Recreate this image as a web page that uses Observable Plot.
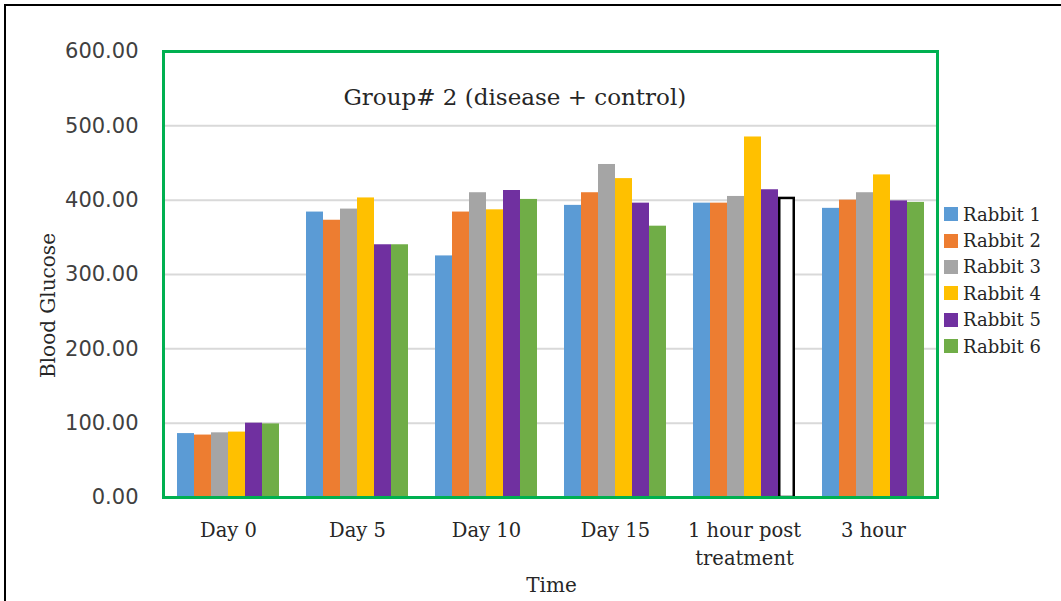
<!DOCTYPE html>
<html>
<head>
<meta charset="utf-8">
<script src="https://cdn.jsdelivr.net/npm/d3@7"></script>
<script src="https://cdn.jsdelivr.net/npm/@observablehq/plot@0.6"></script>
<style>
  html, body { margin: 0; padding: 0; background: #fff; }
  #wrap { position: relative; width: 1061px; height: 601px; overflow: hidden; }
  #box { position: absolute; left: 4px; top: 4px; width: 1100px; height: 700px;
         border-left: 2px solid #000; border-top: 2px solid #000; box-sizing: border-box; }
  #grid, #chart, #over { position: absolute; left: 0; top: 0; }
  #legend { position: absolute; left: 944px; top: 201px; font-family: "DejaVu Serif", serif;
            font-size: 18px; color: #262626; }
  #legend .item { display: flex; align-items: center; height: 26.4px; }
  #legend .sw { width: 14px; height: 14px; margin-right: 5px; }
</style>
</head>
<body>
<div id="wrap">
  <div id="box"></div>
  <div id="grid"></div>
  <div id="chart"></div>
  <div id="over"></div>
  <div id="legend"></div>
</div>
<script>
// Sampling times (x categories)
const times = ["Day 0", "Day 5", "Day 10", "Day 15", "1 hour post\ntreatment", "3 hour"];
// Series names
const rabbits = ["Rabbit 1", "Rabbit 2", "Rabbit 3", "Rabbit 4", "Rabbit 5", "Rabbit 6"];
const colors = ["#5B9BD5", "#ED7D31", "#A5A5A5", "#FFC000", "#7030A0", "#70AD47"];

// Blood glucose per rabbit, one value per time
const rabbit1 = [86, 384, 325, 393, 396, 389];
const rabbit2 = [84, 373, 384, 410, 396, 400];
const rabbit3 = [87, 388, 410, 448, 405, 410];
const rabbit4 = [88, 403, 387, 429, 485, 434];
const rabbit5 = [100, 340, 413, 396, 414, 399];
const rabbit6 = [99, 340, 401, 365, 404, 397];

// The reading drawn as an outlined (unfilled) bar
const hollowRabbit = "Rabbit 6";
const hollowTime = "1 hour post\ntreatment";

const yTicks = [0, 100, 200, 300, 400, 500, 600];
const title = "Group# 2 (disease + control)";

const series = [rabbit1, rabbit2, rabbit3, rabbit4, rabbit5, rabbit6];
const data = [];
times.forEach((t, i) => rabbits.forEach((r, j) => {
  data.push({time: t, rabbit: r, value: series[j][i], hollow: r === hollowRabbit && t === hollowTime});
}));

const serif = "DejaVu Serif, serif";
const sans = "DejaVu Sans, sans-serif";

// Shared layout so all layers use identical scales
const layout = {width: 1061, height: 601, marginLeft: 163, marginRight: 124, marginTop: 51, marginBottom: 104};

// Background layer: gridlines and y axis across the full frame
const grid = Plot.plot({
  ...layout,
  style: {background: "transparent"},
  x: {axis: null},
  y: {domain: [0, 600], axis: null},
  marks: [
    Plot.ruleY(yTicks, {stroke: "#d9d9d9", strokeWidth: 2}),
    Plot.axisY({ticks: yTicks, tickFormat: d3.format(".2f"), tickSize: 0, tickPadding: 25,
                label: null, fontSize: 21, fontFamily: sans, fill: "#404040"})
  ]
});
document.getElementById("grid").appendChild(grid);

// Middle layer: grouped bars faceted by time
const chart = Plot.plot({
  ...layout,
  style: {background: "transparent", color: "#262626"},
  fx: {domain: times, paddingInner: 0.194, paddingOuter: 0.097, axis: null, label: null},
  x: {domain: rabbits, padding: 0, axis: null},
  y: {domain: [0, 600], axis: null},
  color: {domain: rabbits, range: colors},
  marks: [
    Plot.barY(data.filter(d => !d.hollow), {fx: "time", x: "rabbit", y: "value", fill: "rabbit"}),
    Plot.barY(data.filter(d => d.hollow), {fx: "time", x: "rabbit", y: "value", fill: "white", stroke: "black", strokeWidth: 2.5, insetLeft: 1.25, insetRight: 1.25, insetTop: 1.25}),
    Plot.axisFx({anchor: "bottom", tickSize: 0, tickPadding: 20, label: null,
                 fontSize: 19.5, fontFamily: serif, fill: "#262626", lineHeight: 1.42})
  ]
});
document.getElementById("chart").appendChild(chart);

// Top layer: plot border, title and axis titles
const over = Plot.plot({
  ...layout,
  style: {background: "transparent"},
  x: {axis: null},
  y: {domain: [0, 600], axis: null},
  marks: [
    Plot.frame({stroke: "#00B050", strokeWidth: 3}),
    Plot.text([title], {frameAnchor: "top-left", dx: 180, dy: 46, textAnchor: "start", lineAnchor: "middle",
                        fontSize: 23, fontFamily: serif, fill: "#262626"}),
    Plot.text(["Blood Glucose"], {frameAnchor: "left", dx: -115, dy: 31, rotate: -90,
                                  textAnchor: "middle", lineAnchor: "middle",
                                  fontSize: 20, fontFamily: serif, fill: "#262626"}),
    Plot.text(["Time"], {frameAnchor: "bottom", dx: 1, dy: 88, lineAnchor: "middle",
                         fontSize: 20, fontFamily: serif, fill: "#262626"})
  ]
});
document.getElementById("over").appendChild(over);

// Legend
const legend = d3.select("#legend");
rabbits.forEach((r, i) => {
  const item = legend.append("div").attr("class", "item");
  item.append("div").attr("class", "sw").style("background", colors[i]);
  item.append("span").text(r);
});
</script>
</body>
</html>
